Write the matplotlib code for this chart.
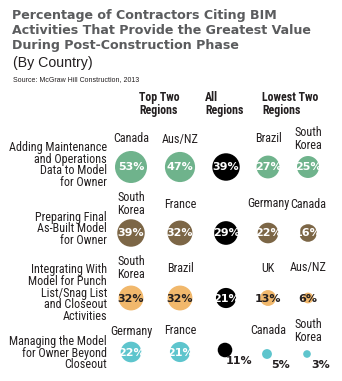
import matplotlib.pyplot as plt
from matplotlib.patches import Circle

# data
activities = [
    ["Adding Maintenance", "and Operations", "Data to Model", "for Owner"],
    ["Preparing Final", "As-Built Model", "for Owner"],
    ["Integrating With", "Model for Punch", "List/Snag List", "and Closeout", "Activities"],
    ["Managing the Model", "for Owner Beyond", "Closeout"],
]
countries = [
    ["Canada", "Aus/NZ", "", "Brazil", "South\nKorea"],
    ["South\nKorea", "France", "", "Germany", "Canada"],
    ["South\nKorea", "Brazil", "", "UK", "Aus/NZ"],
    ["Germany", "France", "", "Canada", "South\nKorea"],
]
values = [
    [53, 47, 39, 27, 25],
    [39, 32, 29, 22, 16],
    [32, 32, 21, 13, 6],
    [22, 21, 11, 5, 3],
]
row_colors = ["#6fb38c", "#7c6646", "#f1b86c", "#5ec5cd"]
pct_colors = ["white", "white", "#231f20", "white"]

# layout (pixel units)
col_x = [131, 180, 226, 268, 308]
row_y = [167, 233, 298, 352]
label_y = [139, 204, 268, 331]
label_top = [148, 217, 270, 342]

narrow = dict(family=["Roboto Condensed", "DejaVu Sans"], stretch="condensed")

fig = plt.figure(figsize=(3.42, 3.81), dpi=100)
ax = fig.add_axes([0, 0, 1, 1])
ax.set_xlim(0, 342)
ax.set_ylim(381, 0)
ax.set_aspect("equal")
ax.axis("off")

# title block
title = ["Percentage of Contractors Citing BIM",
         "Activities That Provide the Greatest Value",
         "During Post-Construction Phase"]
for i, t in enumerate(title):
    ax.text(12, 15 + i * 15.5, t, fontsize=9.05, fontweight="bold", family="DejaVu Sans",
            color="#5b5c5e", va="center", ha="left")
ax.text(13, 63, "(By Country)", fontsize=10.2, family="Liberation Sans",
        color="#231f20", va="center", ha="left")
ax.text(13, 80, "Source: McGraw Hill Construction, 2013", fontsize=5,
        family="Liberation Sans", color="#231f20", va="center", ha="left")

# column headers
headers = [(139, "Top Two\nRegions"), (205, "All\nRegions"), (262, "Lowest Two\nRegions")]
for x, h in headers:
    ax.text(x, 104, h, fontsize=8.6, fontweight="bold", color="#231f20",
            va="center", ha="left", linespacing=1.05, **narrow)

scale = 16 / 53 ** 0.5
for r in range(4):
    for k, line in enumerate(activities[r]):
        ax.text(107, label_top[r] + k * 11.5, line, fontsize=8.7, color="#231f20",
                va="center", ha="right", **narrow)
    for c in range(5):
        v = values[r][c]
        rad = scale * v ** 0.5
        col = "black" if c == 2 else row_colors[r]
        x, y = col_x[c], row_y[r]
        if r == 3 and c >= 2:
            y = y - 2 if c == 2 else y + 2
            x = x - 1
        ax.add_patch(Circle((x, y), rad, color=col, lw=0))
        if countries[r][c]:
            ax.text(col_x[c], label_y[r], countries[r][c], fontsize=8.7, color="#231f20",
                    va="center", ha="center", linespacing=1.0, **narrow)
        txt = f"{v}%"
        if r == 3 and c >= 2:
            ax.text(x + 14, y + 11, txt, fontsize=8, fontweight="bold",
                    color="#231f20", va="center", ha="center")
        else:
            tc = "white" if c == 2 else pct_colors[r]
            ax.text(col_x[c], row_y[r] + 0.5, txt, fontsize=8, fontweight="bold",
                    color=tc, va="center", ha="center")

fig.savefig("out.png", dpi=100)
